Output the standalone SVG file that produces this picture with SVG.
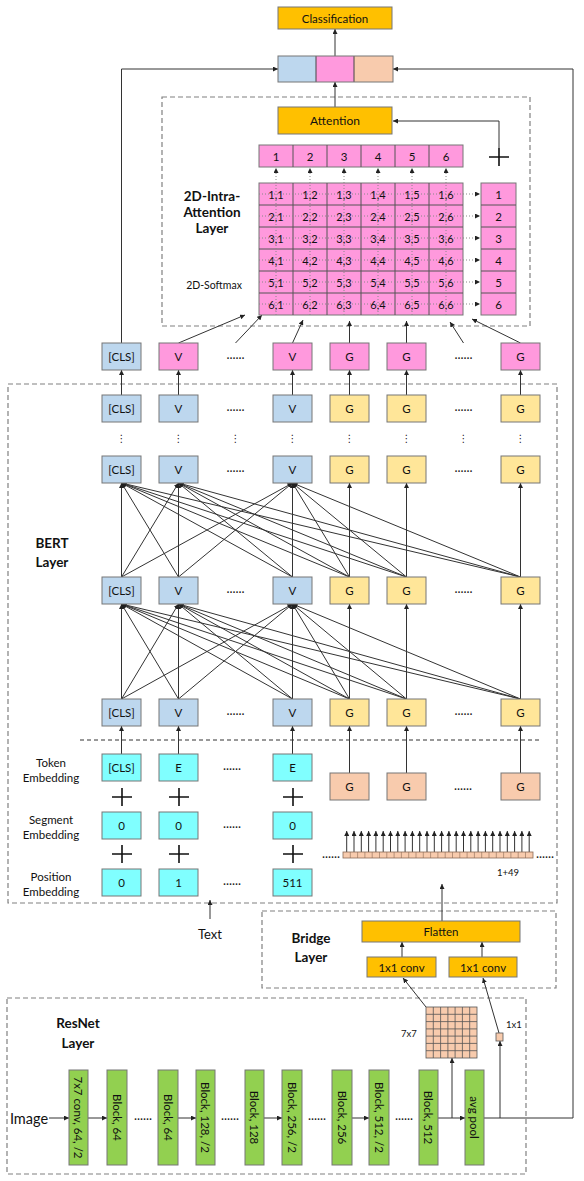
<svg xmlns="http://www.w3.org/2000/svg" width="584" height="1181" viewBox="0 0 584 1181">
<style>
.bx{stroke:#767676;stroke-width:1}
.blue{fill:#BDD7EE}.pink{fill:#FF99DD}.yel{fill:#FFE699}.pea{fill:#F8CBAD}.cyan{fill:#80FFFF}.gold{fill:#FFC000}.grn{fill:#92D050}
.t{font-family:Lato,"Open Sans","Liberation Sans",sans-serif;font-size:11.5px;text-anchor:middle;dominant-baseline:central;fill:#111}
.b{font-weight:bold;font-size:13.5px}
.s{font-size:9.5px}
.el{font-family:"DejaVu Sans",sans-serif;font-size:8px;text-anchor:middle;dominant-baseline:central;fill:#222;font-weight:bold}
.ln{stroke:#333;stroke-width:1;fill:none}
.ar{marker-end:url(#ah)}
.dash{fill:none;stroke:#808080;stroke-width:1.2;stroke-dasharray:5 3}
.dot{stroke:#888;stroke-width:1;stroke-dasharray:1 2;fill:none;marker-end:url(#ah)}
.plus{stroke:#111;stroke-width:1.6;fill:none}
</style>
<defs>
<marker id="ah" viewBox="0 0 6 6" refX="6" refY="3" markerWidth="5" markerHeight="5" markerUnits="userSpaceOnUse" orient="auto"><path d="M0,0 L6,3 L0,6 z" fill="#222"/></marker>
</defs>
<rect width="584" height="1181" fill="#fff"/>

<g id="attention-layer">
<rect class="dash" x="162" y="97" width="368" height="229"/>
<text class="t b" x="212" y="196">2D-Intra-</text>
<text class="t b" x="212" y="212">Attention</text>
<text class="t b" x="212" y="228">Layer</text>
<text class="t" x="214" y="285" style="font-size:10.5px">2D-Softmax</text>
</g>
<g id="bert-layer">
<rect class="dash" x="8" y="384" width="549" height="519"/>
<text class="t b" x="52" y="543">BERT</text>
<text class="t b" x="52" y="562">Layer</text>
<line x1="80" y1="740" x2="540" y2="740" stroke="#333" stroke-dasharray="4 3"/>
<text class="t" x="51" y="762">Token</text>
<text class="t" x="51" y="777">Embedding</text>
<text class="t" x="51" y="819">Segment</text>
<text class="t" x="51" y="834">Embedding</text>
<text class="t" x="51" y="876">Position</text>
<text class="t" x="51" y="891">Embedding</text>
</g>
<g id="bridge-layer">
<rect class="dash" x="262" y="911" width="294" height="77"/>
<text class="t b" x="311" y="938">Bridge</text>
<text class="t b" x="311" y="957">Layer</text>
</g>
<g id="resnet-layer">
<rect class="dash" x="7" y="998" width="519" height="176"/>
<text class="t b" x="78" y="1023">ResNet</text>
<text class="t b" x="78" y="1043">Layer</text>
</g>

<g id="connectors">
<path class="ln ar" d="M335 56 V29"/>
<path class="ln ar" d="M335 107 V82"/>
<path class="ln ar" d="M499 148 V121 H393"/>
<path class="ln ar" d="M121.5 343 V69 H278"/>
<path class="ln ar" d="M484 1118 H573 V69 H393"/>
<path class="ln ar" d="M178.5 343 L245 315"/>
<path class="ln ar" d="M235.5 343 L262 315"/>
<path class="ln ar" d="M292.5 343 L303 320"/>
<path class="ln ar" d="M349.5 343 L349.5 321"/>
<path class="ln ar" d="M406.5 343 L406.5 321"/>
<path class="ln ar" d="M463.5 343 L450 322"/>
<path class="ln ar" d="M520.5 343 L472 319"/>
<path class="ln ar" d="M121.5 395 V370"/>
<path class="ln ar" d="M178.5 395 V370"/>
<path class="ln ar" d="M292.5 395 V370"/>
<path class="ln ar" d="M349.5 395 V370"/>
<path class="ln ar" d="M406.5 395 V370"/>
<path class="ln ar" d="M520.5 395 V370"/>
<path class="ln ar" d="M121.5 577 L121.5 483"/>
<path class="ln ar" d="M121.5 577 L178.5 483"/>
<path class="ln ar" d="M121.5 577 L292.5 483"/>
<path class="ln ar" d="M178.5 577 L121.5 483"/>
<path class="ln ar" d="M178.5 577 L178.5 483"/>
<path class="ln ar" d="M178.5 577 L292.5 483"/>
<path class="ln ar" d="M292.5 577 L121.5 483"/>
<path class="ln ar" d="M292.5 577 L178.5 483"/>
<path class="ln ar" d="M292.5 577 L292.5 483"/>
<path class="ln ar" d="M349.5 577 L121.5 483"/>
<path class="ln ar" d="M349.5 577 L178.5 483"/>
<path class="ln ar" d="M349.5 577 L292.5 483"/>
<path class="ln ar" d="M349.5 577 L349.5 483"/>
<path class="ln ar" d="M406.5 577 L121.5 483"/>
<path class="ln ar" d="M406.5 577 L178.5 483"/>
<path class="ln ar" d="M406.5 577 L292.5 483"/>
<path class="ln ar" d="M406.5 577 L406.5 483"/>
<path class="ln ar" d="M520.5 577 L121.5 483"/>
<path class="ln ar" d="M520.5 577 L178.5 483"/>
<path class="ln ar" d="M520.5 577 L292.5 483"/>
<path class="ln ar" d="M520.5 577 L520.5 483"/>
<path class="ln ar" d="M121.5 699 L121.5 604"/>
<path class="ln ar" d="M121.5 699 L178.5 604"/>
<path class="ln ar" d="M121.5 699 L292.5 604"/>
<path class="ln ar" d="M178.5 699 L121.5 604"/>
<path class="ln ar" d="M178.5 699 L178.5 604"/>
<path class="ln ar" d="M178.5 699 L292.5 604"/>
<path class="ln ar" d="M292.5 699 L121.5 604"/>
<path class="ln ar" d="M292.5 699 L178.5 604"/>
<path class="ln ar" d="M292.5 699 L292.5 604"/>
<path class="ln ar" d="M349.5 699 L121.5 604"/>
<path class="ln ar" d="M349.5 699 L178.5 604"/>
<path class="ln ar" d="M349.5 699 L292.5 604"/>
<path class="ln ar" d="M349.5 699 L349.5 604"/>
<path class="ln ar" d="M406.5 699 L121.5 604"/>
<path class="ln ar" d="M406.5 699 L178.5 604"/>
<path class="ln ar" d="M406.5 699 L292.5 604"/>
<path class="ln ar" d="M406.5 699 L406.5 604"/>
<path class="ln ar" d="M520.5 699 L121.5 604"/>
<path class="ln ar" d="M520.5 699 L178.5 604"/>
<path class="ln ar" d="M520.5 699 L292.5 604"/>
<path class="ln ar" d="M520.5 699 L520.5 604"/>
<path class="ln ar" d="M121.5 754 V726"/>
<path class="ln ar" d="M178.5 754 V726"/>
<path class="ln ar" d="M292.5 754 V726"/>
<path class="ln ar" d="M349.5 773 V726"/>
<path class="ln ar" d="M406.5 773 V726"/>
<path class="ln ar" d="M520.5 773 V726"/>
<path class="ln ar" d="M210 919 V900"/>
<path class="ln ar" d="M442 921 V884"/>
<path class="ln ar" d="M402 957 V942"/>
<path class="ln ar" d="M482 957 V942"/>
<path class="ln ar" d="M426 1007 L403 978"/>
<path class="ln ar" d="M499 1033 L483 978"/>
<path class="ln ar" d="M49 1118 H69"/>
<path class="ln ar" d="M88 1118 H107"/>
<path class="ln ar" d="M178 1118 H196"/>
<path class="ln ar" d="M264 1118 H282"/>
<path class="ln ar" d="M352 1118 H369"/>
<path class="ln ar" d="M438 1118 H465"/>
<path class="ln ar" d="M452 1118 V1058"/>
<path class="ln ar" d="M500 1118 V1041"/>
<g class="ln ar">
<path d="M346.7 852 V831"/><path d="M354 852 V831"/><path d="M361.3 852 V831"/><path d="M368.6 852 V831"/><path d="M375.9 852 V831"/><path d="M383.2 852 V831"/><path d="M390.5 852 V831"/><path d="M397.8 852 V831"/><path d="M405.1 852 V831"/><path d="M412.4 852 V831"/><path d="M419.7 852 V831"/><path d="M427 852 V831"/><path d="M434.3 852 V831"/><path d="M441.6 852 V831"/><path d="M448.9 852 V831"/><path d="M456.2 852 V831"/><path d="M463.5 852 V831"/><path d="M470.8 852 V831"/><path d="M478.1 852 V831"/><path d="M485.4 852 V831"/><path d="M492.7 852 V831"/><path d="M500 852 V831"/><path d="M507.3 852 V831"/><path d="M514.6 852 V831"/><path d="M521.9 852 V831"/><path d="M529.2 852 V831"/>
</g>
</g>

<g id="classification"><rect class="bx gold" x="278" y="7" width="114" height="22"/><text class="t" x="335" y="18">Classification</text></g>
<g id="concat">
<rect class="blue" x="278" y="56" width="38" height="26"/>
<rect class="pink" x="316" y="56" width="38" height="26"/>
<rect class="pea" x="354" y="56" width="39" height="26"/>
<path d="M316 56 V82 M354 56 V82" stroke="#444" stroke-width="1"/>
<rect x="278" y="56" width="115" height="26" fill="none" stroke="#767676"/>
</g>
<g id="attention"><rect class="bx gold" x="278" y="107" width="114" height="27"/><text class="t" x="335" y="120.5" style="font-size:12px">Attention</text></g>
<g id="plus-attn"><path class="plus" d="M489 157 H509 M499 148 V166"/></g>

<g id="top-vector">
<rect class="bx pink" x="259" y="145" width="204" height="22"/>
<path d="M293 145 V167 M327 145 V167 M361 145 V167 M395 145 V167 M429 145 V167" stroke="#555"/>
<text class="t" x="276" y="156">1</text><text class="t" x="310" y="156">2</text><text class="t" x="344" y="156">3</text><text class="t" x="378" y="156">4</text><text class="t" x="412" y="156">5</text><text class="t" x="446" y="156">6</text>
</g>
<g id="right-vector">
<rect class="bx pink" x="481" y="183" width="35" height="132"/>
<path d="M481 205 H516 M481 227 H516 M481 249 H516 M481 271 H516 M481 293 H516" stroke="#555"/>
<text class="t" x="498.5" y="194">1</text><text class="t" x="498.5" y="216">2</text><text class="t" x="498.5" y="238">3</text><text class="t" x="498.5" y="260">4</text><text class="t" x="498.5" y="282">5</text><text class="t" x="498.5" y="304">6</text>
</g>
<g id="grid">
<rect class="bx pink" x="259" y="183" width="204" height="132"/>
<path d="M293 183 V315 M327 183 V315 M361 183 V315 M395 183 V315 M429 183 V315 M259 205 H463 M259 227 H463 M259 249 H463 M259 271 H463 M259 293 H463" stroke="#555"/>
<path class="dot" d="M276 315 V168"/><path class="dot" d="M310 315 V168"/><path class="dot" d="M344 315 V168"/><path class="dot" d="M378 315 V168"/><path class="dot" d="M412 315 V168"/><path class="dot" d="M446 315 V168"/>
<path class="dot" d="M259 194 H480"/><path class="dot" d="M259 216 H480"/><path class="dot" d="M259 238 H480"/><path class="dot" d="M259 260 H480"/><path class="dot" d="M259 282 H480"/><path class="dot" d="M259 304 H480"/>
<g class="t" style="font-size:11px">
<text x="276" y="194">1,1</text><text x="310" y="194">1,2</text><text x="344" y="194">1,3</text><text x="378" y="194">1,4</text><text x="412" y="194">1,5</text><text x="446" y="194">1,6</text>
<text x="276" y="216">2,1</text><text x="310" y="216">2,2</text><text x="344" y="216">2,3</text><text x="378" y="216">2,4</text><text x="412" y="216">2,5</text><text x="446" y="216">2,6</text>
<text x="276" y="238">3,1</text><text x="310" y="238">3,2</text><text x="344" y="238">3,3</text><text x="378" y="238">3,4</text><text x="412" y="238">3,5</text><text x="446" y="238">3,6</text>
<text x="276" y="260">4,1</text><text x="310" y="260">4,2</text><text x="344" y="260">4,3</text><text x="378" y="260">4,4</text><text x="412" y="260">4,5</text><text x="446" y="260">4,6</text>
<text x="276" y="282">5,1</text><text x="310" y="282">5,2</text><text x="344" y="282">5,3</text><text x="378" y="282">5,4</text><text x="412" y="282">5,5</text><text x="446" y="282">5,6</text>
<text x="276" y="304">6,1</text><text x="310" y="304">6,2</text><text x="344" y="304">6,3</text><text x="378" y="304">6,4</text><text x="412" y="304">6,5</text><text x="446" y="304">6,6</text>
</g>
</g>

<g id="out-cls"><rect class="bx blue" x="102" y="343" width="39" height="27"/><text class="t" x="121.5" y="356.5">[CLS]</text></g>
<g id="out-v1"><rect class="bx pink" x="159" y="343" width="39" height="27"/><text class="t" x="178.5" y="356.5">V</text></g>
<g id="out-v2"><rect class="bx pink" x="273" y="343" width="39" height="27"/><text class="t" x="292.5" y="356.5">V</text></g>
<g id="out-g1"><rect class="bx pink" x="330" y="343" width="39" height="27"/><text class="t" x="349.5" y="356.5">G</text></g>
<g id="out-g2"><rect class="bx pink" x="387" y="343" width="39" height="27"/><text class="t" x="406.5" y="356.5">G</text></g>
<g id="out-g3"><rect class="bx pink" x="501" y="343" width="39" height="27"/><text class="t" x="520.5" y="356.5">G</text></g>

<g id="r2-cls"><rect class="bx blue" x="102" y="395" width="39" height="27"/><text class="t" x="121.5" y="408.5">[CLS]</text></g>
<g id="r2-v1"><rect class="bx blue" x="159" y="395" width="39" height="27"/><text class="t" x="178.5" y="408.5">V</text></g>
<g id="r2-v2"><rect class="bx blue" x="273" y="395" width="39" height="27"/><text class="t" x="292.5" y="408.5">V</text></g>
<g id="r2-g1"><rect class="bx yel" x="330" y="395" width="39" height="27"/><text class="t" x="349.5" y="408.5">G</text></g>
<g id="r2-g2"><rect class="bx yel" x="387" y="395" width="39" height="27"/><text class="t" x="406.5" y="408.5">G</text></g>
<g id="r2-g3"><rect class="bx yel" x="501" y="395" width="39" height="27"/><text class="t" x="520.5" y="408.5">G</text></g>

<g id="r3-cls"><rect class="bx blue" x="102" y="456" width="39" height="27"/><text class="t" x="121.5" y="469.5">[CLS]</text></g>
<g id="r3-v1"><rect class="bx blue" x="159" y="456" width="39" height="27"/><text class="t" x="178.5" y="469.5">V</text></g>
<g id="r3-v2"><rect class="bx blue" x="273" y="456" width="39" height="27"/><text class="t" x="292.5" y="469.5">V</text></g>
<g id="r3-g1"><rect class="bx yel" x="330" y="456" width="39" height="27"/><text class="t" x="349.5" y="469.5">G</text></g>
<g id="r3-g2"><rect class="bx yel" x="387" y="456" width="39" height="27"/><text class="t" x="406.5" y="469.5">G</text></g>
<g id="r3-g3"><rect class="bx yel" x="501" y="456" width="39" height="27"/><text class="t" x="520.5" y="469.5">G</text></g>

<g id="r4-cls"><rect class="bx blue" x="102" y="577" width="39" height="27"/><text class="t" x="121.5" y="590.5">[CLS]</text></g>
<g id="r4-v1"><rect class="bx blue" x="159" y="577" width="39" height="27"/><text class="t" x="178.5" y="590.5">V</text></g>
<g id="r4-v2"><rect class="bx blue" x="273" y="577" width="39" height="27"/><text class="t" x="292.5" y="590.5">V</text></g>
<g id="r4-g1"><rect class="bx yel" x="330" y="577" width="39" height="27"/><text class="t" x="349.5" y="590.5">G</text></g>
<g id="r4-g2"><rect class="bx yel" x="387" y="577" width="39" height="27"/><text class="t" x="406.5" y="590.5">G</text></g>
<g id="r4-g3"><rect class="bx yel" x="501" y="577" width="39" height="27"/><text class="t" x="520.5" y="590.5">G</text></g>

<g id="r5-cls"><rect class="bx blue" x="102" y="699" width="39" height="27"/><text class="t" x="121.5" y="712.5">[CLS]</text></g>
<g id="r5-v1"><rect class="bx blue" x="159" y="699" width="39" height="27"/><text class="t" x="178.5" y="712.5">V</text></g>
<g id="r5-v2"><rect class="bx blue" x="273" y="699" width="39" height="27"/><text class="t" x="292.5" y="712.5">V</text></g>
<g id="r5-g1"><rect class="bx yel" x="330" y="699" width="39" height="27"/><text class="t" x="349.5" y="712.5">G</text></g>
<g id="r5-g2"><rect class="bx yel" x="387" y="699" width="39" height="27"/><text class="t" x="406.5" y="712.5">G</text></g>
<g id="r5-g3"><rect class="bx yel" x="501" y="699" width="39" height="27"/><text class="t" x="520.5" y="712.5">G</text></g>

<g id="ellipses" class="el" opacity="0.99">
<text x="235.5" y="356">......</text><text x="463.5" y="356">......</text>
<text x="235.5" y="408">......</text><text x="463.5" y="408">......</text>
<text x="235.5" y="469">......</text><text x="463.5" y="469">......</text>
<text x="235.5" y="590">......</text><text x="463.5" y="590">......</text>
<text x="235.5" y="712">......</text><text x="463.5" y="712">......</text>
<text x="232" y="767">......</text><text x="232" y="825">......</text><text x="232" y="882">......</text>
<text x="463" y="787">......</text>
<text x="331" y="855">......</text><text x="545" y="855">......</text>
<text x="143" y="1117">......</text><text x="230" y="1117">......</text><text x="317" y="1117">......</text><text x="404" y="1117">......</text>
</g>
<g id="vdots" class="el" style="font-size:10px;font-weight:normal" opacity="0.99">
<text x="121.5" y="438">⋮</text><text x="178.5" y="438">⋮</text><text x="235.5" y="438">⋮</text><text x="292.5" y="438">⋮</text><text x="349.5" y="438">⋮</text><text x="406.5" y="438">⋮</text><text x="463.5" y="438">⋮</text><text x="520.5" y="438">⋮</text>
</g>

<g id="tok-cls"><rect class="bx cyan" x="102" y="754" width="39" height="27"/><text class="t" x="121.5" y="767.5">[CLS]</text></g>
<g id="tok-e1"><rect class="bx cyan" x="159" y="754" width="39" height="27"/><text class="t" x="178.5" y="767.5">E</text></g>
<g id="tok-e2"><rect class="bx cyan" x="273" y="754" width="39" height="27"/><text class="t" x="292.5" y="767.5">E</text></g>
<g id="seg-1"><rect class="bx cyan" x="102" y="812" width="39" height="27"/><text class="t" x="121.5" y="825.5">0</text></g>
<g id="seg-2"><rect class="bx cyan" x="159" y="812" width="39" height="27"/><text class="t" x="178.5" y="825.5">0</text></g>
<g id="seg-3"><rect class="bx cyan" x="273" y="812" width="39" height="27"/><text class="t" x="292.5" y="825.5">0</text></g>
<g id="pos-1"><rect class="bx cyan" x="102" y="869" width="39" height="27"/><text class="t" x="121.5" y="882.5">0</text></g>
<g id="pos-2"><rect class="bx cyan" x="159" y="869" width="39" height="27"/><text class="t" x="178.5" y="882.5">1</text></g>
<g id="pos-3"><rect class="bx cyan" x="273" y="869" width="39" height="27"/><text class="t" x="292.5" y="882.5">511</text></g>
<g id="plus-signs">
<path class="plus" d="M112 797 H132 M122 788 V806 M169 797 H189 M179 788 V806 M283 797 H303 M293 788 V806"/>
<path class="plus" d="M112 854 H132 M122 845 V863 M169 854 H189 M179 845 V863 M283 854 H303 M293 845 V863"/>
</g>
<g id="img-g1"><rect class="bx pea" x="330" y="773" width="39" height="27"/><text class="t" x="349.5" y="786.5">G</text></g>
<g id="img-g2"><rect class="bx pea" x="387" y="773" width="39" height="27"/><text class="t" x="406.5" y="786.5">G</text></g>
<g id="img-g3"><rect class="bx pea" x="501" y="773" width="39" height="27"/><text class="t" x="520.5" y="786.5">G</text></g>
<g id="patch-strip">
<rect class="pea" x="343" y="852" width="190" height="6" stroke="#8a6a55" stroke-width="0.8"/>
<path d="M350.3 852 v6 M357.6 852 v6 M364.9 852 v6 M372.2 852 v6 M379.5 852 v6 M386.8 852 v6 M394.1 852 v6 M401.4 852 v6 M408.7 852 v6 M416 852 v6 M423.3 852 v6 M430.6 852 v6 M437.9 852 v6 M445.2 852 v6 M452.5 852 v6 M459.8 852 v6 M467.1 852 v6 M474.4 852 v6 M481.7 852 v6 M489 852 v6 M496.3 852 v6 M503.6 852 v6 M510.9 852 v6 M518.2 852 v6 M525.5 852 v6" stroke="#8a6a55" stroke-width="0.6"/>
<text class="t s" x="508" y="872">1+49</text>
</g>
<g id="text-input"><text class="t" x="210" y="934" style="font-size:13px">Text</text></g>

<g id="flatten"><rect class="bx gold" x="362" y="921" width="158" height="21"/><text class="t" x="441" y="931.5">Flatten</text></g>
<g id="conv1"><rect class="bx gold" x="367" y="957" width="69" height="20"/><text class="t" x="401.5" y="967">1x1 conv</text></g>
<g id="conv2"><rect class="bx gold" x="449" y="957" width="68" height="20"/><text class="t" x="483" y="967">1x1 conv</text></g>

<g id="fmap7">
<rect class="pea" x="426" y="1007" width="51" height="51" stroke="#555" stroke-width="0.8"/>
<path d="M433.3 1007 V1058 M440.6 1007 V1058 M447.9 1007 V1058 M455.1 1007 V1058 M462.4 1007 V1058 M469.7 1007 V1058 M426 1014.3 H477 M426 1021.6 H477 M426 1028.9 H477 M426 1036.1 H477 M426 1043.4 H477 M426 1050.7 H477" stroke="#555" stroke-width="0.8"/>
<text class="t s" x="409" y="1033">7x7</text>
</g>
<g id="fmap1"><rect class="pea" x="496" y="1033" width="7" height="8" stroke="#555" stroke-width="0.8"/><text class="t s" x="514" y="1024">1x1</text></g>
<g id="image-input"><text class="t" x="29" y="1118" style="font-size:14.5px">Image</text></g>
<g id="conv7"><rect class="bx grn" x="69" y="1070" width="19" height="95"/><text class="t" transform="rotate(90 78.5 1117.5)" x="78.5" y="1117.5">7x7 conv, 64, /2</text></g>
<g id="blk1"><rect class="bx grn" x="107" y="1070" width="20" height="95"/><text class="t" transform="rotate(90 117 1117.5)" x="117" y="1117.5">Block, 64</text></g>
<g id="blk2"><rect class="bx grn" x="158" y="1070" width="20" height="95"/><text class="t" transform="rotate(90 168 1117.5)" x="168" y="1117.5">Block, 64</text></g>
<g id="blk3"><rect class="bx grn" x="196" y="1070" width="19" height="95"/><text class="t" transform="rotate(90 205.5 1117.5)" x="205.5" y="1117.5">Block, 128, /2</text></g>
<g id="blk4"><rect class="bx grn" x="245" y="1070" width="19" height="95"/><text class="t" transform="rotate(90 254.5 1117.5)" x="254.5" y="1117.5">Block, 128</text></g>
<g id="blk5"><rect class="bx grn" x="282" y="1070" width="20" height="95"/><text class="t" transform="rotate(90 292 1117.5)" x="292" y="1117.5">Block, 256, /2</text></g>
<g id="blk6"><rect class="bx grn" x="332" y="1070" width="20" height="95"/><text class="t" transform="rotate(90 342 1117.5)" x="342" y="1117.5">Block, 256</text></g>
<g id="blk7"><rect class="bx grn" x="369" y="1070" width="20" height="95"/><text class="t" transform="rotate(90 379 1117.5)" x="379" y="1117.5">Block, 512, /2</text></g>
<g id="blk8"><rect class="bx grn" x="419" y="1070" width="19" height="95"/><text class="t" transform="rotate(90 428.5 1117.5)" x="428.5" y="1117.5">Block, 512</text></g>
<g id="avgpool"><rect class="bx grn" x="465" y="1070" width="19" height="95"/><text class="t" transform="rotate(90 474.5 1117.5)" x="474.5" y="1117.5">avg pool</text></g>
</svg>
